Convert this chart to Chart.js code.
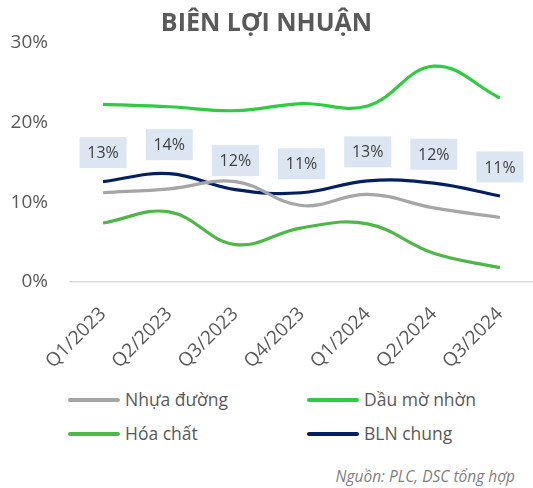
<!DOCTYPE html>
<html>
<head>
<meta charset="utf-8">
<script src="https://cdn.jsdelivr.net/npm/chart.js@4/dist/chart.umd.min.js"></script>
<style>
  html, body { margin: 0; padding: 0; background: #fff; }
  #wrap { position: relative; width: 533px; height: 488px; overflow: hidden; font-family: "Open Sans", sans-serif; color: #595959; }
  #title { position: absolute; left: 0; width: 533px; top: 4px; text-align: center; font-weight: bold; font-size: 25px; color: #595959; }
  #box { position: absolute; left: 0; top: 0; width: 533px; height: 375px; }
  .leg { position: absolute; font-size: 17.5px; color: #595959; white-space: nowrap; line-height: 24px; }
  .leg span.ln { display: inline-block; width: 52px; height: 4px; border-radius: 2px; vertical-align: middle; margin-right: 5px; position: relative; top: -1px; }
  #src { position: absolute; right: 18px; top: 465px; font-style: italic; font-size: 15.5px; color: #7f7f7f; }
</style>
</head>
<body>
<div id="wrap">
  <div id="box"><canvas id="c"></canvas></div>
  <div id="title">BIÊN LỢI NHUẬN</div>
  <div id="legend"></div>
  <div id="src">Nguồn: PLC, DSC tổng hợp</div>
</div>
<script>
const categories = ["Q1/2023", "Q2/2023", "Q3/2023", "Q4/2023", "Q1/2024", "Q2/2024", "Q3/2024"];
const nhuaDuong = [11.2, 11.7, 12.6, 9.6, 11.0, 9.3, 8.1];
const dauMoNhon = [22.3, 22.0, 21.5, 22.4, 22.1, 27.1, 23.1];
const hoaChat   = [7.4, 8.8, 4.7, 6.8, 7.3, 3.6, 1.8];
const blnChung  = [12.6, 13.6, 11.6, 11.2, 12.7, 12.4, 10.8];
const yTicks = [0, 10, 20, 30];

const seriesNames = ["Nhựa đường", "Dầu mờ nhờn", "Hóa chất", "BLN chung"];
const seriesColors = ["#A6A6A6", "#2ECC40", "#4DB848", "#002060"];
const seriesData = [nhuaDuong, dauMoNhon, hoaChat, blnChung];

const labelPlugin = {
  id: 'blnLabels',
  afterDatasetsDraw(chart) {
    const ctx = chart.ctx;
    const meta = chart.getDatasetMeta(3);
    ctx.save();
    ctx.font = '16px "Open Sans", sans-serif';
    ctx.textAlign = 'center';
    ctx.textBaseline = 'middle';
    meta.data.forEach((pt, i) => {
      const cx = pt.x, cy = pt.y - 29;
      ctx.fillStyle = '#DCE6F2';
      ctx.fillRect(cx - 23.5, cy - 15.5, 47, 31);
      ctx.fillStyle = '#404040';
      ctx.fillText(Math.round(blnChung[i]) + '%', cx, cy + 1);
    });
    ctx.restore();
  }
};

new Chart(document.getElementById('c'), {
  type: 'line',
  data: {
    labels: categories,
    datasets: seriesData.map((d, i) => ({
      label: seriesNames[i],
      data: d,
      borderColor: seriesColors[i],
      backgroundColor: seriesColors[i],
      borderWidth: 3.2,
      pointRadius: 0,
      tension: 0.4,
      fill: false
    }))
  },
  options: {
    responsive: true,
    maintainAspectRatio: false,
    animation: false,
    layout: { padding: { top: 43, left: 0, right: 0, bottom: 0 } },
    plugins: { legend: { display: false }, title: { display: false }, tooltip: { enabled: false } },
    scales: {
      x: {
        offset: true,
        grid: { display: false, drawTicks: false },
        border: { display: true, color: '#D9D9D9', width: 1.5 },
        ticks: {
          color: '#595959',
          font: { family: '"Open Sans", sans-serif', size: 19 },
          maxRotation: 45, minRotation: 45,
          padding: 21, autoSkip: false
        },
        afterFit(s) { s.height = 93; s.paddingLeft = 0; s.paddingRight = 0; }
      },
      y: {
        min: 0, max: 30,
        afterBuildTicks(s) { s.ticks = yTicks.map(v => ({ value: v })); },
        grid: { display: false, drawTicks: false },
        border: { display: false },
        ticks: {
          color: '#595959',
          font: { family: '"Open Sans", sans-serif', size: 19 },
          padding: 22,
          callback: v => v + '%'
        },
        afterFit(s) { s.width = 70; }
      }
    }
  },
  plugins: [labelPlugin]
});

const legendPos = [[68, 387], [307, 387], [68, 421], [307, 421]];
const legendEl = document.getElementById('legend');
seriesNames.forEach((n, i) => {
  const d = document.createElement('div');
  d.className = 'leg';
  d.style.left = legendPos[i][0] + 'px';
  d.style.top = legendPos[i][1] + 'px';
  d.innerHTML = '<span class="ln" style="background:' + seriesColors[i] + '"></span>' + n;
  legendEl.appendChild(d);
});
</script>
</body>
</html>
